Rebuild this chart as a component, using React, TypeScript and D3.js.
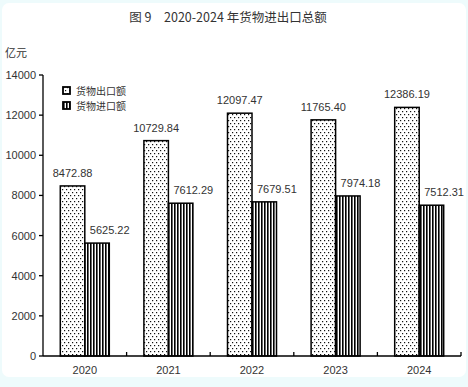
import React from "react";
import * as d3 from "d3";

const years = ["2020", "2021", "2022", "2023", "2024"];
const exportValues = [8472.88, 10729.84, 12097.47, 11765.4, 12386.19];
const importValues = [5625.22, 7612.29, 7679.51, 7974.18, 7512.31];
const seriesNames = ["货物出口额", "货物进口额"];
const yTicks = [0, 2000, 4000, 6000, 8000, 10000, 12000, 14000];
const title = "图 9　2020-2024 年货物进出口总额";
const unit = "亿元";

const W = 468;
const H = 387;
const M = { left: 43, right: 461, top: 75, bottom: 356 };
const FONT = "Arial, 'Liberation Sans', 'Noto Sans CJK SC', sans-serif";
const CJK = "'Noto Sans CJK SC', 'Liberation Sans', sans-serif";

export default function App() {
  const x = d3.scaleBand<string>().domain(years).range([M.left, M.right]).padding(0);
  const xSub = d3.scaleBand<string>().domain(["export", "import"]).range([-24.5, 24.5]).padding(0);
  const y = d3.scaleLinear().domain([0, 14000]).range([M.bottom, M.top]);
  const fmt = d3.format(".2f");
  const bw = xSub.bandwidth();
  const boundaries = years.map((yr) => (x(yr) as number) + x.bandwidth());

  return (
    <svg
      width={W}
      height={H}
      style={{ position: "absolute", left: 0, top: 0, display: "block" }}
      fontFamily={FONT}
    >
      <defs>
        <pattern id="dots" patternUnits="userSpaceOnUse" width="4" height="6">
          <rect width="4" height="6" fill="#fff" />
          <rect x="0" y="0" width="1.2" height="1.2" fill="#111" />
          <rect x="2" y="3" width="1.2" height="1.2" fill="#111" />
        </pattern>
        <pattern id="stripes" patternUnits="userSpaceOnUse" width="3" height="4">
          <rect width="3" height="4" fill="#fff" />
          <rect x="0" y="0" width="1.6" height="4" fill="#000" />
        </pattern>
      </defs>
      <rect x={0} y={0} width={W} height={H} fill="#eefbfc" />
      <rect x={2} y={3} width={464} height={374} rx={7} fill="#ffffff" />

      <text x={228} y={22} textAnchor="middle" fontFamily={CJK} fontSize={12.5} fill="#333">
        {title}
      </text>
      <text x={5} y={57} fontFamily={CJK} fontSize={11} fill="#333">
        {unit}
      </text>

      {/* y axis */}
      <line x1={M.left} x2={M.left} y1={M.top} y2={M.bottom} stroke="#000" strokeWidth={1.3} />
      {yTicks.map((t) => (
        <g key={t}>
          <line x1={M.left - 4} x2={M.left} y1={y(t)} y2={y(t)} stroke="#000" strokeWidth={1.3} />
          <text x={36} y={y(t) + 4} textAnchor="end" fontSize={11} fill="#333">
            {t}
          </text>
        </g>
      ))}

      {/* bars */}
      {years.map((yr, i) => {
        const cx = (x(yr) as number) + x.bandwidth() / 2;
        const ex = cx + (xSub("export") as number);
        const ix = cx + (xSub("import") as number);
        return (
          <g key={yr}>
            <rect
              x={ex}
              y={y(exportValues[i])}
              width={bw}
              height={M.bottom - y(exportValues[i])}
              fill="url(#dots)"
              stroke="#000"
              strokeWidth={1.5}
            />
            <rect
              x={ix}
              y={y(importValues[i])}
              width={bw}
              height={M.bottom - y(importValues[i])}
              fill="url(#stripes)"
              stroke="#000"
              strokeWidth={1.5}
            />
            <text x={ex + bw / 2} y={y(exportValues[i]) - 9} textAnchor="middle" fontSize={11} fill="#333">
              {fmt(exportValues[i])}
            </text>
            <text x={ix + 5} y={y(importValues[i]) - 9} textAnchor="start" fontSize={11} fill="#333">
              {fmt(importValues[i])}
            </text>
            <text x={cx} y={374} textAnchor="middle" fontSize={11} fill="#333">
              {yr}
            </text>
          </g>
        );
      })}

      {/* x axis */}
      <line x1={M.left} x2={M.right} y1={M.bottom} y2={M.bottom} stroke="#000" strokeWidth={1.3} />
      {boundaries.map((bx, i) => (
        <line key={i} x1={bx} x2={bx} y1={M.bottom} y2={M.bottom - 4} stroke="#000" strokeWidth={1.3} />
      ))}

      {/* legend */}
      {seriesNames.map((n, i) => (
        <g key={n} transform={`translate(63, ${87 + i * 15})`}>
          <rect x={0} y={0} width={7} height={7} fill={i === 0 ? "url(#dots)" : "url(#stripes)"} stroke="#000" strokeWidth={1.8} />
          <text x={13} y={7.5} fontFamily={CJK} fontSize={10} fill="#333">
            {n}
          </text>
        </g>
      ))}
    </svg>
  );
}
